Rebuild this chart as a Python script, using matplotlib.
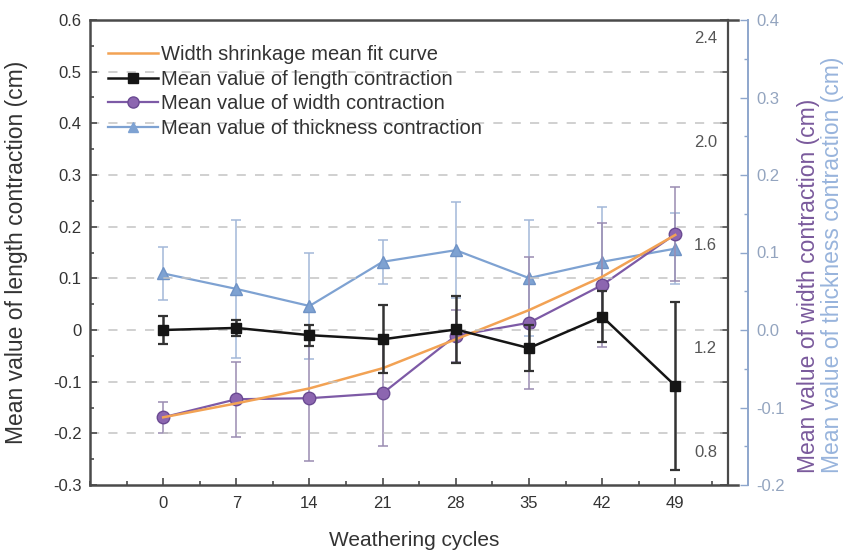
import matplotlib
matplotlib.use("Agg")
import matplotlib.pyplot as plt
from matplotlib.ticker import MultipleLocator, FuncFormatter
from matplotlib.lines import Line2D
from matplotlib import transforms

plt.rcParams['font.family'] = ['Liberation Sans', 'DejaVu Sans']
plt.rcParams['axes.unicode_minus'] = False

# ---- data ----
cycles = [0, 7, 14, 21, 28, 35, 42, 49]
length_mean = [0.0, 0.004, -0.010, -0.018, 0.001, -0.035, 0.026, -0.108]
length_err = [0.027, 0.016, 0.020, 0.066, 0.065, 0.045, 0.050, 0.162]
width_mean = [0.862, 0.932, 0.936, 0.955, 1.178, 1.228, 1.374, 1.571]
width_err = [0.060, 0.146, 0.245, 0.204, 0.100, 0.255, 0.240, 0.183]
thick_mean = [0.073, 0.053, 0.031, 0.088, 0.103, 0.067, 0.088, 0.105]
thick_err = [0.034, 0.089, 0.068, 0.028, 0.062, 0.075, 0.071, 0.046]
width_fit = [0.862, 0.916, 0.974, 1.052, 1.164, 1.277, 1.406, 1.568]
width_tick_labels = [0.8, 1.2, 1.6, 2.0, 2.4]

# ---- colours ----
c_black = '#151515'
c_purple = '#7d5aa6'
c_purple_face = '#8c66b0'
c_purple_err = '#9a8cb2'
c_blue = '#7ea2d2'
c_blue_err = '#a3b8d8'
c_orange = '#f2a254'
c_spine = '#4a4a4a'
c_text = '#333333'

W, H = 848, 560
fig = plt.figure(figsize=(W / 100, H / 100), dpi=100)
L, R, T, B = 90, 738, 20, 485
ax = fig.add_axes([L / W, (H - B) / H, (R - L) / W, (B - T) / H])
ax.set_zorder(3)
ax.patch.set_visible(False)

w_pos = (728 - L) / (R - L)
t_pos = (748 - L) / (R - L)

# ---- length contraction (main axis) ----
ax.set_xlim(-7, 55)
ax.set_ylim(-0.3, 0.6)
for y in [-0.2, -0.1, 0.0, 0.1, 0.2, 0.3, 0.4, 0.5]:
    ax.axhline(y, xmin=0, xmax=w_pos, color='#c4c4c4', lw=1.1,
               dashes=(6, 6), zorder=0)

# ---- width contraction axis ----
axw = ax.twinx()
axw.set_ylim(0.6, 2.4)
axw.set_zorder(2)
axw.patch.set_visible(False)
for s in ['left', 'top', 'bottom']:
    axw.spines[s].set_visible(False)
axw.spines['right'].set_position(('axes', w_pos))
axw.spines['right'].set_color(c_spine)
axw.spines['right'].set_linewidth(1.6)
axw.yaxis.set_major_locator(MultipleLocator(0.4))
axw.yaxis.set_minor_locator(MultipleLocator(0.2))
axw.tick_params(axis='y', which='both', direction='in', colors=c_spine,
                labelright=False, width=1.2)
axw.tick_params(axis='y', which='major', length=6)
axw.tick_params(axis='y', which='minor', length=6)
lab_tr = transforms.blended_transform_factory(axw.transAxes, axw.transData) + \
    transforms.ScaledTranslation(0, -0.19, fig.dpi_scale_trans)
for v in width_tick_labels:
    axw.text(w_pos - 11 / (R - L), v, f"{v:.1f}", transform=lab_tr,
             ha='right', va='center', fontsize=12, color='#555555')

# ---- thickness contraction axis ----
axt = ax.twinx()
axt.set_ylim(-0.2, 0.4)
axt.set_zorder(1)
axt.patch.set_visible(False)
for s in ['left', 'top', 'bottom']:
    axt.spines[s].set_visible(False)
axt.spines['right'].set_position(('axes', t_pos))
axt.spines['right'].set_color('#8ea6cc')
axt.spines['right'].set_linewidth(1.4)
axt.yaxis.set_major_locator(MultipleLocator(0.1))
axt.yaxis.set_minor_locator(MultipleLocator(0.05))
axt.yaxis.set_major_formatter(FuncFormatter(lambda v, p: f"{v:.1f}"))
axt.tick_params(axis='y', which='both', direction='in', colors='#8ea6cc',
                labelcolor='#93a4bf', labelsize=12, pad=6, width=1.0)
axt.tick_params(axis='y', which='major', length=6)
axt.tick_params(axis='y', which='minor', length=3)

# ---- series ----
axt.errorbar(cycles, thick_mean, yerr=thick_err, color=c_blue, lw=1.6,
             marker='^', ms=8, mfc=c_blue, mec='#6f93c6', ecolor=c_blue_err,
             elinewidth=1.1, capsize=3.5, capthick=1.1, zorder=3)
axw.errorbar(cycles, width_mean, yerr=width_err, color=c_purple, lw=1.6,
             marker='o', ms=9, mfc=c_purple_face, mec='#6a4a92',
             ecolor=c_purple_err, elinewidth=1.1, capsize=3.5, capthick=1.1,
             zorder=3)
axw.plot(cycles, width_fit, color=c_orange, lw=1.8, zorder=4)
ax.errorbar(cycles, length_mean, yerr=length_err, color=c_black, lw=1.8,
            marker='s', ms=7, mfc=c_black, mec=c_black, ecolor='#333333',
            elinewidth=1.8, capsize=3.5, capthick=1.6, zorder=5)

# ---- main axis styling ----
ax.spines['right'].set_visible(False)
for s in ['left', 'top', 'bottom']:
    ax.spines[s].set_color(c_spine)
    ax.spines[s].set_linewidth(1.8)
ax.set_xticks(cycles)
ax.xaxis.set_minor_locator(MultipleLocator(3.5))
ax.yaxis.set_major_locator(MultipleLocator(0.1))
ax.yaxis.set_minor_locator(MultipleLocator(0.05))
ax.yaxis.set_major_formatter(
    FuncFormatter(lambda v, p: '0' if abs(v) < 1e-9 else f"{v:.1f}"))
ax.tick_params(axis='both', which='both', direction='in', colors=c_spine,
               labelcolor=c_text, labelsize=12, width=1.2)
ax.tick_params(axis='both', which='major', length=5)
ax.tick_params(axis='both', which='minor', length=3)
ax.tick_params(axis='x', pad=8)
ax.tick_params(axis='y', pad=6)

ax.set_xlabel('Weathering cycles', fontsize=15, color=c_text)
ax.xaxis.set_label_coords(0.5, -0.1)
ax.set_ylabel('Mean value of length contraction (cm)', fontsize=16.5,
              color=c_text)
ax.yaxis.set_label_coords((28 - L) / (R - L), 0.5)

ax.text((808 - L) / (R - L), (B - 473) / (B - T),
        'Mean value of width contraction (cm)', transform=ax.transAxes,
        rotation=90, ha='center', va='bottom', fontsize=16.5, color='#7a5a9c')
ax.text((832 - L) / (R - L), (B - 473) / (B - T),
        'Mean value of thickness contraction (cm)', transform=ax.transAxes,
        rotation=90, ha='center', va='bottom', fontsize=16.5, color='#98b4dc')

# ---- legend ----
handles = [
    Line2D([], [], color=c_orange, lw=1.8),
    Line2D([], [], color=c_black, lw=1.8, marker='s', ms=7),
    Line2D([], [], color=c_purple, lw=1.6, marker='o', ms=8,
           mfc=c_purple_face, mec='#6a4a92'),
    Line2D([], [], color=c_blue, lw=1.6, marker='^', ms=7, mfc=c_blue),
]
labels = ['Width shrinkage mean fit curve',
          'Mean value of length contraction',
          'Mean value of width contraction',
          'Mean value of thickness contraction']
leg = ax.legend(handles, labels, loc='upper left',
                bbox_to_anchor=((108 - L) / (R - L), (B - 45) / (B - T)),
                frameon=False, fontsize=14.5, handlelength=2.5,
                handletextpad=0.15, labelspacing=0.28, borderpad=0,
                borderaxespad=0)
for t in leg.get_texts():
    t.set_color(c_text)

fig.savefig('out.png', dpi=100)
